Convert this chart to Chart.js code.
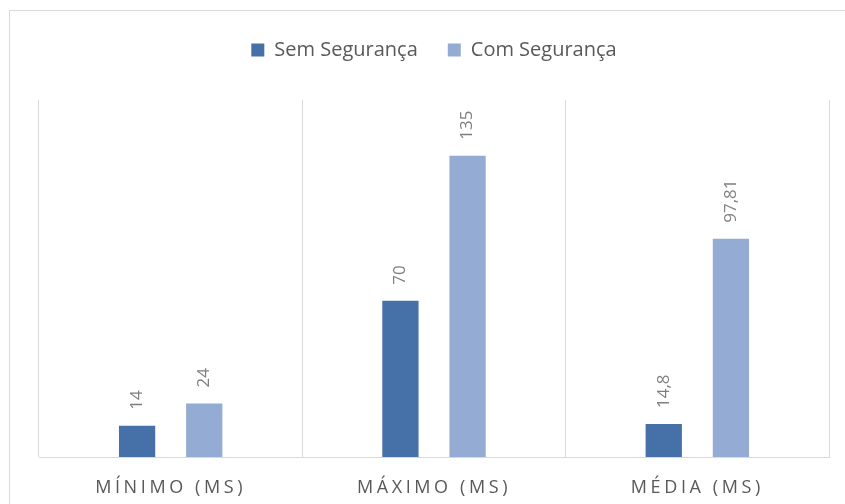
<!DOCTYPE html>
<html>
<head>
<meta charset="utf-8">
<script src="https://cdn.jsdelivr.net/npm/chart.js@4/dist/chart.umd.min.js"></script>
<style>
  html, body { margin: 0; padding: 0; background: #ffffff; }
  #wrap { position: relative; width: 845px; height: 504px; overflow: hidden; background: #ffffff; }
  #frame { position: absolute; left: 9px; top: 10px; width: 900px; height: 600px; border: 1px solid #d9d9d9; box-sizing: border-box; }
  #c { position: absolute; left: 0; top: 0; }
</style>
</head>
<body>
<div id="wrap">
  <div id="frame"></div>
  <canvas id="c" width="845" height="504"></canvas>
</div>
<script>
const categories = ['MÍNIMO (MS)', 'MÁXIMO (MS)', 'MÉDIA (MS)'];
const seriesNames = ['Sem Segurança', 'Com Segurança'];
const semSeguranca = [14, 70, 14.8];
const comSeguranca = [24, 135, 97.81];
const yMax = 160;

const fmt = v => String(v).replace('.', ',');
const canvasEl = document.getElementById('c');

const legendGap = {
  id: 'legendGap',
  beforeInit(chart) {
    const fit = chart.legend.fit;
    chart.legend.fit = function () {
      fit.bind(chart.legend)();
      this.height += 30;
    };
  }
};

const labelPlugin = {
  id: 'barLabels',
  beforeDraw(chart) { chart.ctx.letterSpacing = '0px'; },
  afterDatasetsDraw(chart) {
    const ctx = chart.ctx;
    ctx.save();
    ctx.letterSpacing = '0px';
    ctx.font = '17px "Open Sans"';
    ctx.fillStyle = '#7f7f7f';
    ctx.textAlign = 'left';
    ctx.textBaseline = 'middle';
    chart.data.datasets.forEach((ds, di) => {
      const meta = chart.getDatasetMeta(di);
      meta.data.forEach((el, i) => {
        ctx.save();
        ctx.translate(el.x, el.y - 16);
        ctx.rotate(-Math.PI / 2);
        ctx.fillText(fmt(ds.data[i]), 0, 0);
        ctx.restore();
      });
    });
    ctx.restore();
    // x tick labels (ticks.z = 1) are drawn after this point
    ctx.letterSpacing = '3.6px';
  },
  afterDraw(chart) { chart.ctx.letterSpacing = '0px'; }
};

new Chart(canvasEl, {
  type: 'bar',
  data: {
    labels: categories,
    datasets: [
      { label: seriesNames[0], data: semSeguranca, backgroundColor: '#4571a8', borderWidth: 0 },
      { label: seriesNames[1], data: comSeguranca, backgroundColor: '#94abd3', borderWidth: 0 }
    ]
  },
  options: {
    responsive: false,
    animation: false,
    devicePixelRatio: 1,
    categoryPercentage: 0.51,
    barPercentage: 0.54,
    layout: { padding: { top: 10, left: 39, right: 16, bottom: 0 } },
    plugins: {
      legend: {
        position: 'top',
        labels: {
          font: { family: 'Open Sans', size: 20 },
          color: '#595959',
          boxWidth: 13,
          boxHeight: 13,
          padding: 30
        }
      },
      tooltip: { enabled: false }
    },
    scales: {
      x: {
        grid: { color: '#d9d9d9', lineWidth: 1, drawTicks: false, offset: true },
        border: { color: '#d9d9d9', width: 1 },
        ticks: { z: 1, font: { family: 'Open Sans', size: 18 }, color: '#595959', padding: 20 },
        afterFit(scale) { scale.height = 47; }
      },
      y: {
        display: false,
        min: 0,
        max: yMax
      }
    }
  },
  plugins: [legendGap, labelPlugin]
});
</script>
</body>
</html>
